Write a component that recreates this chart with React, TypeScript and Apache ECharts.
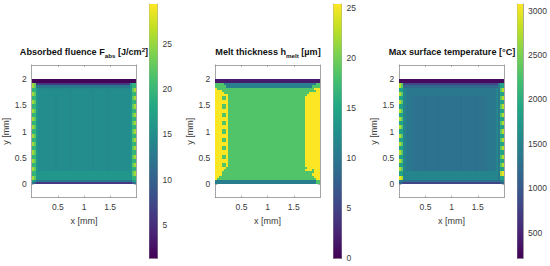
import React, { useEffect, useRef } from "react";
import * as echarts from "echarts";

const CELL_MM = 0.04;
const viridis = ["#440154", "#482475", "#414487", "#355f8d", "#2a788e", "#21918c", "#22a884", "#44bf70", "#7ad151", "#bddf26", "#fde725"];

const fluenceLevels: Record<string, number> = { a: 1.6, b: 3, c: 6, d: 9.5, e: 12.5, f: 14.5, g: 14.8, h: 15.9, i: 17.5, j: 19.5, k: 22.5, l: 25.5 };
const F_DARK = "aaaaaaaaaa aaaaaaaaaa aaaaaaaaaa aaaaaaaaaa aaaaaaaaaa";
const F_L = "lkhggggggg gfggggggfg gggggggggf ggggggfggg ggggggghjj";
const F_R = "jjhggggggg gfggggggfg gggggggggf ggggggfggg ggggggghkl";
const F_LB = "lkhhhhhhhh hhhhhhhhhh hhhhhhhhhh hhhhhhhhhh hhhhhhhhjj";
const F_RB = "jjhhhhhhhh hhhhhhhhhh hhhhhhhhhh hhhhhhhhhh hhhhhhhhkl";
const fluenceRows = [
  F_DARK, F_DARK,
  "lkcccccccc cccccccccc cccccccccc cccccccccc ccccccchjj",
  "lkeeeeeeee eeeeeeeeee eeeeeeeeee eeeeeeeeee eeeeeeehjj",
  "jjhfffffff ffffffffff ffffffffff ffffffffff fffffffhkl",
  F_R, F_L, F_L, F_R, F_R, F_L, F_L, F_R, F_R, F_L, F_L, F_R, F_R, F_L, F_L, F_R, F_R, F_L, F_L,
  F_R, F_R, F_L, F_L, F_R, F_R, F_L, F_L, F_R, F_R, F_L, F_L, F_R, F_R, F_L, F_L, F_R, F_R, F_L, F_L,
  F_RB, F_RB, F_LB, F_LB,
  "iheeeeeeee eeeeeeeeee eeeeeeeeee eeeeeeeeee eeeeeeeehi",
  "edcccccccc cccccccccc cccccccccc cccccccccc ccccccccde",
];

const meltLevels: Record<string, number> = { d: 1.8, t: 10.8, g: 18.4, y: 25.4 };
const M_DOT = "yyyggygggg gggggggggg gggggggggg gggggggggg gggyyyyyyy";
const M_FULL = "yyyyyygggg gggggggggg gggggggggg gggggggggg gggyyyyyyy";
const M_DARK = "dddddddddd dddddddddd dddddddddd dddddddddd dddddddddd";
const meltRows = [
  M_DARK, M_DARK,
  "ggggtttttt tttttttttt tttttttttt tttttttttt ttttttttgg",
  "gggggttttt tttttttttt tttttttttt tttttttttt ttttttgggg",
  "yggggggggg gggggggggg gggggggggg gggggggggg gggggggyyy",
  "yyyggggggg gggggggggg gggggggggg gggggggggg ggggggggyy",
  "yyyygggggg gggggggggg gggggggggg gggggggggg gggggyyyyy",
  "yyyyyygggg gggggggggg gggggggggg gggggggggg ggggyyyyyy",
  M_DOT, M_DOT, M_FULL, M_FULL, M_DOT, M_DOT, M_FULL, M_FULL, M_DOT, M_DOT, M_FULL, M_FULL,
  M_DOT, M_DOT, M_FULL, M_FULL, M_DOT, M_DOT, M_FULL, M_FULL, M_DOT, M_DOT, M_FULL, M_FULL,
  M_DOT, M_DOT, M_FULL, M_FULL, M_DOT, M_DOT, M_FULL, M_FULL, M_DOT, M_DOT,
  "yyyyyggggg gggggggggg gggggggggg gggggggggg ggggyyyyyy",
  "yyyygggggg gggggggggg gggggggggg gggggggggg gggyyygyyy",
  "yyyggggggg gggggggggg gggggggggg gggggggggg gggggggyyy",
  "yyyggggggg gggggggggg gggggggggg gggggggggg ggggggyyyy",
  "yygggggggg gggggggggg gggggggggg gggggggggg gggggggyyy",
  "yggggggggg gggggggggg gggggggggg gggggggggg ggggggggyy",
  "tttttttttt tttttttttt tttttttttt tttttttttt ttttttttgg",
  "tttttttttt tttttttttt tttttttttt tttttttttt ttttttttgg",
];

const tempLevels: Record<string, number> = { a: 280, b: 500, c: 800, d: 1050, e: 1180, f: 1270, g: 1290, h: 1360, i: 1500, j: 1850, k: 2350, l: 2750, m: 3000 };
const T_DARK = "aaaaaaaaaa aaaaaaaaaa aaaaaaaaaa aaaaaaaaaa aaaaaaaaaa";
const T_L = "lkihhhgggg ggfgggggfg gggggggggf ggggggfggg gghhhhihjj";
const T_R = "jjihhhgggg ggfgggggfg gggggggggf ggggggfggg gghhhhihkl";
const T_LT = "lkihhhhhhh hhhhhhhhhh hhhhhhhhhh hhhhhhhhhh hhhhhhihjj";
const T_RT = "jjihhhhhhh hhhhhhhhhh hhhhhhhhhh hhhhhhhhhh hhhhhhihkl";
const T_LB = "mliiiiiiii iiiiiiiiii iiiiiiiiii iiiiiiiiii iiiiiiihjj";
const T_RB = "jjiiiiiiii iiiiiiiiii iiiiiiiiii iiiiiiiiii iiiiiiihlm";
const tempRows = [
  T_DARK, T_DARK,
  "lkcccccccc cccccccccc cccccccccc cccccccccc ccccccchjj",
  "lkeeeeeeee eeeeeeeeee eeeeeeeeee eeeeeeeeee eeeeeeehjj",
  T_RT, T_RT, T_LT, T_LT,
  T_R, T_R, T_L, T_L, T_R, T_R, T_L, T_L, T_R, T_R, T_L, T_L, T_R, T_R, T_L, T_L,
  T_R, T_R, T_L, T_L, T_R, T_R, T_L, T_L, T_R, T_R, T_L, T_L, T_R, T_R, T_L, T_L, T_R, T_R, T_L, T_L,
  T_RB, T_RB, T_LB, T_LB,
  "ihffffffff ffffffffff ffffffffff ffffffffff ffffffffhi",
  "edcccccccc cccccccccc cccccccccc cccccccccc ccccccccde",
];

const mapXTicks = [0.5, 1, 1.5];
const mapYTicks = [0, 0.5, 1, 1.5, 2];
const fluenceBarTicks = [5, 10, 15, 20, 25];
const meltBarTicks = [0, 5, 10, 15, 20, 25];
const tempBarTicks = [500, 1000, 1500, 2000, 2500, 3000];

const GRAY = "#7f7f7f";
const TEXT = "#3a3a3a";

function hexToRgb(h: string) {
  return [parseInt(h.slice(1, 3), 16), parseInt(h.slice(3, 5), 16), parseInt(h.slice(5, 7), 16)];
}
function colorAt(t: number) {
  const p = Math.max(0, Math.min(1, t)) * (viridis.length - 1);
  const i = Math.min(viridis.length - 2, Math.floor(p));
  const a = hexToRgb(viridis[i]);
  const b = hexToRgb(viridis[i + 1]);
  const f = p - i;
  return `rgb(${a.map((v, k) => Math.round(v + (b[k] - v) * f)).join(",")})`;
}
function cells(rows: string[], levels: Record<string, number>) {
  const out: number[][] = [];
  rows.forEach((row, r) => {
    row.replace(/\s/g, "").split("").forEach((ch, c) => {
      out.push([c * CELL_MM, (c + 1) * CELL_MM, 2 - (r + 1) * CELL_MM, 2 - r * CELL_MM, levels[ch]]);
    });
  });
  return out;
}

const panels = [
  {
    title: "{a|Absorbed fluence F}{s|abs}{a| [J/cm}{u|2}{a|]}", rows: fluenceRows, levels: fluenceLevels,
    left: 31.7, barLeft: 149.3, barMin: 1.3, barMax: 29.4, barTicks: fluenceBarTicks, cx: 84,
  },
  {
    title: "{a|Melt thickness h}{s|melt}{a| [µm]}", rows: meltRows, levels: meltLevels,
    left: 215.3, barLeft: 333.4, barMin: 0, barMax: 25.4, barTicks: meltBarTicks, cx: 268,
  },
  {
    title: "{a|Max surface temperature [°C]}", rows: tempRows, levels: tempLevels,
    left: 399.3, barLeft: 517.3, barMin: 210, barMax: 3075, barTicks: tempBarTicks, cx: 452,
  },
];

function buildOption() {
  const grid: any[] = [];
  const xAxis: any[] = [];
  const yAxis: any[] = [];
  const series: any[] = [];
  const title: any[] = [];
  const tick = { show: true, inside: true, length: 2, lineStyle: { color: GRAY, width: 0.6 } };
  const line = { show: true, onZero: false, lineStyle: { color: GRAY, width: 0.7 } };
  const label = { color: TEXT, fontFamily: "Liberation Sans", fontSize: 8.5, formatter: (v: number) => String(v) };

  panels.forEach((p) => {
    const mapGrid = grid.length;
    grid.push({ left: p.left, top: 65, width: 104.6, height: 132.6, show: false });
    const xBase = { type: "value", gridIndex: mapGrid, min: 0, max: 2, splitLine: { show: false }, axisLine: line };
    const yBase = { type: "value", gridIndex: mapGrid, min: -0.26, max: 2.27, splitLine: { show: false }, axisLine: line };
    const xi = xAxis.length;
    const yi = yAxis.length;
    xAxis.push({
      ...xBase, position: "bottom", name: "x [mm]", nameLocation: "middle", nameGap: 19,
      nameTextStyle: { color: TEXT, fontFamily: "Liberation Sans", fontSize: 9 },
      axisTick: { ...tick, customValues: mapXTicks },
      axisLabel: { ...label, margin: 5, customValues: mapXTicks },
    });
    xAxis.push({ ...xBase, position: "top", axisTick: { ...tick, customValues: mapXTicks }, axisLabel: { show: false } });
    yAxis.push({
      ...yBase, position: "left", name: "y [mm]", nameLocation: "middle", nameGap: 16,
      nameTextStyle: { color: TEXT, fontFamily: "Liberation Sans", fontSize: 9 },
      axisTick: { ...tick, customValues: mapYTicks },
      axisLabel: { ...label, margin: 5, customValues: mapYTicks },
    });
    yAxis.push({ ...yBase, position: "right", axisTick: { ...tick, customValues: mapYTicks }, axisLabel: { show: false } });

    const range = p.barMax - p.barMin;
    const barMin = p.barMin;
    series.push({
      type: "custom", xAxisIndex: xi, yAxisIndex: yi, silent: true, clip: true,
      data: cells(p.rows, p.levels), encode: { x: [0, 1], y: [2, 3] },
      renderItem: (_: any, api: any) => {
        const a = api.coord([api.value(0), api.value(3)]);
        const b = api.coord([api.value(1), api.value(2)]);
        const x0 = Math.round(a[0]);
        const y0 = Math.round(a[1]);
        return {
          type: "rect",
          shape: { x: x0, y: y0, width: Math.round(b[0]) - x0, height: Math.round(b[1]) - y0 },
          style: { fill: colorAt((api.value(4) - barMin) / range) },
        };
      },
    });

    const barGrid = grid.length;
    grid.push({ left: p.barLeft, top: 4, width: 8.2, height: 254.3, show: false });
    const bxi = xAxis.length;
    const byi = yAxis.length;
    const bx = { type: "value", gridIndex: barGrid, min: 0, max: 1, splitLine: { show: false }, axisLabel: { show: false }, axisTick: { show: false }, axisLine: line };
    xAxis.push({ ...bx, position: "bottom" });
    xAxis.push({ ...bx, position: "top" });
    const by = { type: "value", gridIndex: barGrid, min: p.barMin, max: p.barMax, splitLine: { show: false }, axisLine: line };
    yAxis.push({
      ...by, position: "right",
      axisTick: { ...tick, customValues: p.barTicks },
      axisLabel: { ...label, margin: 5, customValues: p.barTicks },
    });
    yAxis.push({ ...by, position: "left", axisTick: { ...tick, customValues: p.barTicks }, axisLabel: { show: false } });
    series.push({
      type: "custom", xAxisIndex: bxi, yAxisIndex: byi, silent: true, z: 1,
      data: [[0, 1, p.barMin, p.barMax]], encode: { x: [0, 1], y: [2, 3] },
      renderItem: (_: any, api: any) => {
        const a = api.coord([api.value(0), api.value(3)]);
        const b = api.coord([api.value(1), api.value(2)]);
        return {
          type: "rect",
          shape: { x: a[0], y: a[1], width: b[0] - a[0], height: b[1] - a[1] },
          style: {
            fill: new echarts.graphic.LinearGradient(0, 1, 0, 0, viridis.map((c, i) => ({ offset: i / (viridis.length - 1), color: c }))),
          },
        };
      },
    });

    title.push({
      text: p.title, left: p.cx, top: 46, padding: 0, textAlign: "center",
      textStyle: {
        rich: {
          a: { fontFamily: "Liberation Sans", fontWeight: "bold", fontSize: 9.1, color: "#111111", height: 12 },
          s: { fontFamily: "Liberation Sans", fontWeight: "bold", fontSize: 6.2, color: "#111111", verticalAlign: "bottom", padding: [2, 0, 0, 0] },
          u: { fontFamily: "Liberation Sans", fontWeight: "bold", fontSize: 6.2, color: "#111111", verticalAlign: "top" },
        },
      },
    });
  });

  return { animation: false, backgroundColor: "#ffffff", grid, xAxis, yAxis, series, title };
}

export default function App() {
  const ref = useRef<HTMLDivElement>(null);
  useEffect(() => {
    const chart = echarts.init(ref.current!, undefined, { renderer: "svg" });
    chart.setOption(buildOption() as any);
    return () => chart.dispose();
  }, []);
  return <div ref={ref} style={{ position: "fixed", left: 0, top: 0, width: 550, height: 266 }} />;
}
